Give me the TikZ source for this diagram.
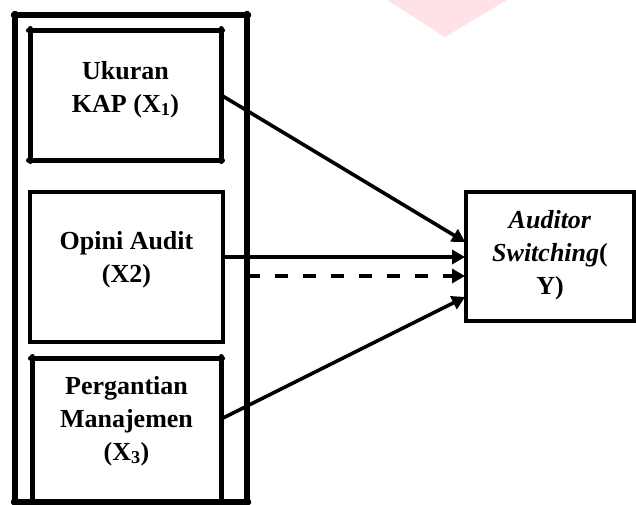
\documentclass[tikz,border=0pt]{standalone}
\usepackage{fontspec}
\setmainfont{Liberation Serif}
\usetikzlibrary{arrows.meta}
\definecolor{wmpink}{RGB}{255,226,230}
\tikzset{
  boxnode/.style={draw=none, inner sep=0pt, outer sep=0pt, rectangle},
  thickframe/.style={line width=5pt, line cap=round},
  thinframe/.style={draw, line width=3.5pt, inner sep=0pt, outer sep=0pt, rectangle},
  txt/.style={font=\bfseries\fontsize{26}{33}\selectfont, align=center, inner sep=0pt, anchor=base},
  conn/.style={line width=3.6pt, -{Triangle[length=13pt,width=14pt]}, shorten >=1pt},
  dconn/.style={conn, dash pattern=on 13pt off 15pt}
}
\begin{document}
\begin{tikzpicture}[x=1pt,y=-1pt]
\useasboundingbox (0,0) rectangle (636,504);
% faint watermark
\fill[wmpink] (387,0) -- (507,0) -- (445,37) -- cycle;
% outer frame
\node[boxnode, minimum width=232pt, minimum height=487pt] (o) at (131,258.5) {};
\draw[thickframe, line width=5.5pt] ([xshift=-1.5pt]o.north west) -- ([xshift=1.5pt]o.north east);
\draw[thickframe, line width=5.5pt] ([yshift=1.5pt]o.north west) -- ([yshift=-1.5pt]o.south west);
\draw[thickframe, line width=5.5pt] ([yshift=1.5pt]o.north east) -- ([yshift=-1.5pt]o.south east);
\draw[thickframe, line width=5.5pt] ([xshift=-1.5pt]o.south west) -- ([xshift=1.5pt]o.south east);
% box 1
\node[boxnode, minimum width=191pt, minimum height=130pt] (b1) at (125.5,95) {};
\draw[thickframe] ([xshift=-1.5pt]b1.north west) -- ([xshift=1.5pt]b1.north east);
\draw[thickframe] ([yshift=1.5pt]b1.north west) -- ([yshift=-1.5pt]b1.south west);
\draw[thickframe] ([yshift=1.5pt]b1.north east) -- ([yshift=-1.5pt]b1.south east);
\draw[thickframe] ([xshift=-1.5pt]b1.south west) -- ([xshift=1.5pt]b1.south east);
\node[txt] (t1) at (125.5,112) {Ukuran\\KAP (X\textsubscript{1})};
% box 2
\node[thinframe, minimum width=193pt, minimum height=150pt] (b2) at (126.5,267) {};
\node[txt] (t2) at (126.5,282) {Opini Audit\\(X2)};
% box 3
\node[boxnode, minimum width=189pt, minimum height=144pt] (b3) at (126.5,430) {};
\draw[thickframe] ([xshift=-1.5pt]b3.north west) -- ([xshift=1.5pt]b3.north east);
\draw[thickframe] ([yshift=1.5pt]b3.north west) -- ([yshift=-1.5pt]b3.south west);
\draw[thickframe] ([yshift=1.5pt]b3.north east) -- ([yshift=-1.5pt]b3.south east);
\node[txt] (t3) at (126.5,460) {Pergantian\\Manajemen\\(X\textsubscript{3})};
% Y box
\node[thinframe, line width=4pt, minimum width=168pt, minimum height=129pt] (yb) at (550,256.5) {};
\node[txt] (ty) at (550,294) {\textit{Auditor}\\\textit{Switching}(\\Y)};
% connectors
\draw[conn] (b1.east) -- ([yshift=14pt]yb.west);
\draw[conn] ([yshift=10pt]b2.east) coordinate (s2) -- (s2 -| yb.west);
\draw[dconn] ([yshift=-17.5pt]o.east) coordinate (s3) -- (s3 -| yb.west);
\draw[conn] ([yshift=11pt]b3.east) -- ([yshift=-40pt]yb.west);
\end{tikzpicture}
\end{document}
